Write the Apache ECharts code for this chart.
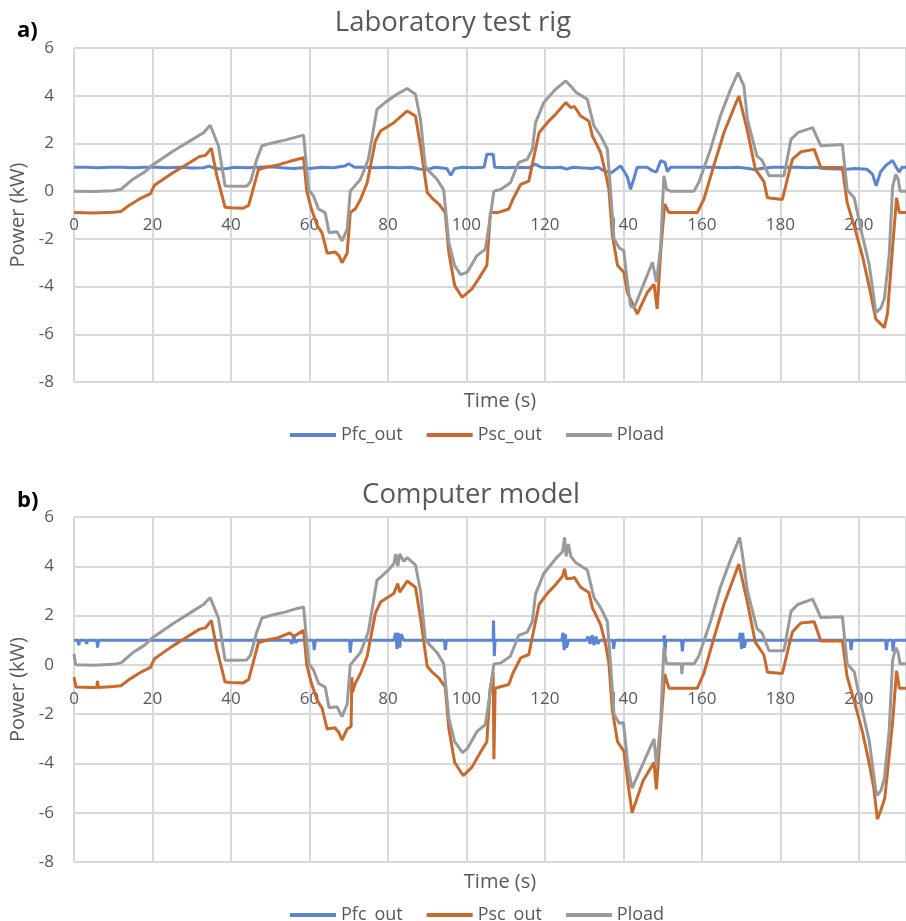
<!DOCTYPE html>
<html>
<head>
<meta charset="utf-8">
<script src="https://cdn.jsdelivr.net/npm/echarts@6/dist/echarts.min.js"></script>
<style>
  html, body { margin: 0; padding: 0; background: #fff; }
  #main { width: 906px; height: 921px; }
</style>
</head>
<body>
<div id="main"></div>
<script>
// [time (s), power (kW)]

// a) Laboratory test rig
var labPfc = [[0,1.0],[3,1.0],[6,0.98],[9,1.0],[12,1.0],[15,0.98],[18,1.0],[21,1.0],[24,0.98],[27,1.0],[30,0.97],[33,0.98],[34.5,1.05],[35.5,0.98],[37,0.93],[39,0.95],[41,1.0],[44,0.98],[47,1.0],[50,1.02],[53,0.98],[56,0.95],[58,0.98],[60,0.95],[63,1.0],[66,0.98],[69,1.05],[70,1.15],[71.5,1.0],[74,1.0],[77,0.98],[80,1.0],[83,0.98],[86,1.0],[88,0.93],[90,0.9],[92,1.0],[95,0.95],[96,0.67],[97,0.95],[99,1.0],[102,0.98],[104.5,1.0],[105.2,1.55],[106.8,1.55],[107.2,1.0],[110,0.98],[113,1.0],[116,0.98],[117.5,1.13],[119,1.0],[122,0.98],[124,1.0],[125.5,0.92],[127,1.0],[130,0.97],[132,0.95],[133.5,1.0],[135.5,0.82],[137,0.78],[139.3,1.06],[141,0.6],[141.8,0.08],[142.8,0.6],[143.5,1.0],[146,1.0],[147.5,0.85],[148.4,0.8],[149.5,1.28],[150.6,1.2],[151.2,0.82],[152,1.0],[156,1.0],[160,1.0],[163,1.0],[166,0.98],[169,1.0],[172,0.95],[173.5,0.9],[175,0.95],[178,1.0],[181,1.0],[184,1.0],[187,0.98],[189,1.0],[191,0.95],[194,0.93],[197,0.92],[199,0.95],[202,0.92],[203.5,0.7],[204.4,0.22],[205.5,0.8],[207,1.1],[208.6,1.28],[209.5,1.0],[210.3,0.8],[211,1.0],[212,1.0]];

var labPsc = [[0,-0.9],[5,-0.92],[10,-0.88],[12,-0.85],[14,-0.6],[17,-0.3],[19.5,-0.1],[20.5,0.25],[25,0.75],[29,1.15],[32,1.45],[33.5,1.5],[35,1.8],[36.4,0.64],[38.5,-0.68],[40,-0.7],[43,-0.72],[44.5,-0.6],[45.5,0],[47,0.9],[49,1.0],[52,1.1],[55,1.25],[58.5,1.4],[59.3,0],[60.5,-0.75],[62,-1.45],[63.2,-1.75],[64.5,-2.6],[66.5,-2.55],[67.5,-2.7],[68.3,-3.0],[69.6,-2.6],[70.4,-0.9],[71.7,-0.74],[73,-0.35],[74.7,0.35],[76.8,2.1],[78.1,2.52],[81.5,2.87],[84.9,3.36],[87,3.15],[88.3,1.9],[90,-0.06],[91.3,-0.3],[93,-0.54],[94.6,-0.9],[95.5,-2.56],[97,-3.96],[98.9,-4.45],[101.4,-4.1],[103.6,-3.54],[105.2,-3.12],[106.1,-0.9],[108,-0.9],[110.8,-0.75],[111.8,-0.35],[113.8,0.28],[115.9,0.42],[116.7,1.06],[118.5,2.45],[120.6,2.87],[122.7,3.22],[125.3,3.71],[126.6,3.5],[127.5,3.55],[129.1,3.15],[131.2,2.94],[132.1,2.31],[134.2,1.62],[135.5,0.71],[136.3,0.07],[137.2,-1.87],[138.5,-3.12],[140.1,-3.4],[141,-4.24],[142.3,-4.7],[143.5,-5.15],[146.1,-4.24],[147.8,-3.9],[148.6,-4.94],[149.5,-2.5],[150.5,-0.54],[151.6,-0.9],[158.8,-0.9],[160.5,-0.34],[163,1.06],[165.6,2.45],[169.4,3.99],[171.5,2.6],[173.6,0.92],[175.8,0.4],[176.7,-0.28],[180.5,-0.35],[182.6,1.06],[183.1,1.34],[185.2,1.65],[188.6,1.75],[190.3,0.99],[195.8,0.99],[197,-0.48],[198.8,-1.46],[200.9,-2.72],[202.6,-3.98],[204.3,-5.36],[206.5,-5.72],[207.3,-5.1],[208.6,-2.3],[209.6,-0.28],[210.3,-0.9],[212,-0.9]];

var labPload = [[0,0],[5,-0.02],[10,0.02],[12,0.08],[15,0.5],[18,0.8],[20,1.1],[25,1.65],[30,2.15],[33,2.45],[34.7,2.76],[36.8,1.9],[38.5,0.22],[41,0.2],[44,0.2],[45,0.4],[46.5,1.3],[47.9,1.9],[50,2.0],[54,2.15],[58.5,2.35],[59.8,0.05],[61,-0.2],[62.3,-0.75],[64,-0.9],[65,-1.74],[67,-1.7],[68.3,-2.08],[69.6,-1.6],[70.4,0],[73,0.5],[75,1.34],[77.2,3.43],[79.8,3.78],[82.3,4.06],[84.9,4.3],[87,4.06],[88.3,3.0],[89.5,1.06],[90.4,0.85],[92.5,0.5],[94.2,0.05],[95.5,-2.15],[97,-3.12],[98.5,-3.5],[100.2,-3.4],[102.7,-2.7],[104.8,-2.43],[105.6,-1.6],[107,0],[108.7,0.07],[111.2,0.35],[113.3,1.2],[115.5,1.33],[116.8,1.76],[117.6,2.87],[119.7,3.71],[122.7,4.27],[125.3,4.62],[126.6,4.4],[128,4.13],[130.8,3.85],[132.5,2.73],[134.2,2.31],[135.9,1.76],[136.7,0.07],[137.6,-2.0],[138.9,-2.37],[140.1,-2.5],[140.6,-3.26],[141.8,-4.8],[142.7,-4.9],[147.4,-2.98],[148.4,-3.82],[149.5,-2.3],[150.3,0.64],[151,0.07],[152,0],[158,0],[159.2,0.36],[162.2,1.76],[164.7,3.15],[167.3,4.27],[169.2,4.97],[170.7,4.4],[171.6,3.0],[174,1.48],[175.3,1.3],[177.1,0.64],[180.9,0.64],[182.7,2.17],[184.4,2.45],[188.2,2.66],[190.3,1.9],[195.8,1.95],[197,0.05],[198.8,-0.28],[200.9,-1.87],[202.6,-3.06],[203.4,-3.98],[204.3,-5.09],[205.6,-4.9],[206.5,-4.5],[207.7,-2.7],[208.6,0.2],[209.4,0.7],[210,0.5],[210.5,0],[212,0]];

// b) Computer model
var modelPfc = [[0,1],[1,1],[1.2,0.8],[1.5,1],[3,1],[3.2,0.85],[3.5,1],[5.8,1],[6,0.7],[6.3,1],[55,1],[55.5,0.85],[56,1.15],[56.5,0.9],[57,1],[61,1],[61.2,0.6],[61.5,1],[70.2,1],[70.4,0.5],[70.7,1],[81.5,1],[82,1.3],[82.3,0.65],[82.6,1.3],[83,0.7],[83.4,1.25],[84,1],[94.4,1],[94.6,0.6],[94.9,1],[106.8,1],[106.9,1.8],[107.1,0.35],[107.3,1],[124.3,1],[124.6,1.3],[124.9,0.6],[125.2,1.25],[125.5,0.7],[126,1],[130.5,1],[131,1.15],[131.5,0.85],[132,1.2],[132.5,0.8],[133,1.15],[133.5,0.85],[134,1],[137.3,1],[137.5,0.65],[137.8,1],[150.3,1],[150.4,1.2],[150.6,0.5],[150.8,1],[154.8,1],[155,0.55],[155.3,1],[169.5,1],[169.8,1.3],[170.1,0.65],[170.4,1.3],[170.8,0.7],[171.2,1],[197.8,1],[198,0.6],[198.3,1],[206.8,1],[207,0.6],[207.3,1],[208.5,1],[208.7,0.55],[209,1],[212,1]];

var modelPsc = [[0,-0.5],[0.5,-0.9],[5,-0.92],[5.8,-0.92],[6,-0.65],[6.2,-0.92],[10,-0.88],[12,-0.85],[14,-0.6],[17,-0.3],[19.5,-0.1],[20.5,0.25],[25,0.75],[29,1.15],[32,1.45],[33.5,1.5],[35,1.8],[36.4,0.64],[38.5,-0.7],[40,-0.72],[43,-0.74],[44.5,-0.6],[45.5,0],[47,0.9],[49,1.0],[52,1.1],[55,1.3],[56,1.15],[58.5,1.4],[59.3,0],[60.5,-0.75],[62,-1.45],[63.2,-1.75],[64.5,-2.6],[66.5,-2.55],[67.5,-2.75],[68.3,-3.05],[69.6,-2.6],[70.6,-2.5],[70.8,-0.5],[71,-1.1],[71.7,-0.74],[73,-0.35],[74.7,0.35],[76.8,2.1],[78.1,2.55],[81.5,2.9],[82.5,3.3],[83,2.95],[84.9,3.4],[87,3.15],[88.3,1.9],[90,-0.06],[91.3,-0.3],[93,-0.54],[94.6,-0.9],[95.5,-2.56],[97,-3.96],[99.2,-4.5],[101.4,-4.15],[103.6,-3.54],[105.2,-3.12],[106,-1.0],[106.8,-0.3],[107,-3.83],[107.3,-0.95],[110.8,-0.8],[111.8,-0.35],[113.8,0.28],[115.9,0.42],[116.7,1.06],[118.5,2.45],[120.6,2.9],[122.7,3.25],[124.5,3.6],[125,3.9],[125.5,3.5],[126.6,3.5],[127.5,3.55],[129.1,3.15],[131.2,2.94],[132.1,2.31],[134.2,1.62],[135.5,0.8],[136.3,0.07],[137.2,-1.87],[138.5,-3.12],[140.1,-3.5],[140.9,-4.5],[142.2,-6.0],[145,-4.7],[147.8,-3.96],[148.4,-5.05],[149.5,-2.5],[150.5,-0.37],[151.6,-0.95],[158.8,-0.95],[160.5,-0.34],[163,1.06],[165.6,2.45],[169.4,4.09],[171.5,2.6],[173.6,0.92],[175.8,0.4],[176.7,-0.3],[180.5,-0.35],[182.6,1.06],[183.1,1.34],[185.2,1.7],[188.6,1.75],[190.3,0.97],[195.8,0.97],[197,-0.48],[198.8,-1.46],[200.9,-2.72],[202.6,-3.98],[203.8,-5.0],[204.7,-6.26],[205.6,-5.9],[206.6,-5.4],[208.6,-2.3],[209.6,-0.24],[210.3,-0.95],[212,-0.95]];

var modelPload = [[0,0.45],[0.4,0],[5,-0.02],[10,0.02],[12,0.08],[15,0.5],[18,0.8],[20,1.1],[25,1.65],[30,2.15],[33,2.45],[34.7,2.73],[36.8,1.9],[38.5,0.19],[41,0.19],[44,0.2],[45,0.4],[46.5,1.3],[47.9,1.9],[50,2.0],[54,2.15],[56,2.25],[58.5,2.35],[59.8,0.05],[61,-0.2],[62.3,-0.75],[64,-0.9],[65,-1.74],[67,-1.7],[68.3,-2.1],[69.6,-1.6],[70.4,0],[73,0.5],[75,1.34],[77.2,3.43],[79.8,3.8],[81.5,4.1],[82,4.5],[82.5,4.0],[83,4.5],[84,4.2],[84.9,4.35],[87,4.06],[88.3,3.0],[89.5,1.06],[90.4,0.85],[92.5,0.5],[94.2,0.05],[95.5,-2.15],[97,-3.12],[99,-3.56],[100.2,-3.4],[102.7,-2.7],[104.8,-2.43],[105.6,-1.6],[107,0.04],[108.7,0.07],[111.2,0.35],[113.3,1.2],[115.5,1.33],[116.8,1.76],[117.6,2.87],[119.7,3.71],[122.7,4.3],[124.5,4.6],[125,5.17],[125.4,4.4],[126,4.9],[126.6,4.4],[128,4.13],[130.8,3.85],[132.5,2.73],[134.2,2.31],[135.9,1.76],[136.7,0.07],[137.6,-2.0],[138.9,-2.37],[140,-2.34],[141.2,-4.17],[142.2,-5.0],[147.8,-3.0],[148.4,-4.1],[149.5,-2.3],[150.3,0.7],[151,0.04],[154.7,0.04],[154.9,-0.38],[155.1,0.04],[158,0.04],[159.2,0.36],[162.2,1.76],[164.7,3.15],[167.3,4.27],[169.2,5.0],[169.6,5.17],[170.2,4.6],[171.6,3.0],[174,1.48],[175.3,1.3],[177.1,0.57],[180.9,0.57],[182.7,2.17],[184.4,2.45],[188.2,2.67],[190.3,1.92],[195.8,1.95],[197,0.05],[198.8,-0.28],[200.9,-1.87],[202.6,-3.06],[203.4,-4.0],[204.3,-5.1],[204.7,-5.3],[205.6,-5.1],[206.5,-4.6],[207.7,-2.7],[208.6,0.2],[209.4,0.7],[210,0.5],[210.5,0.04],[212,0.04]];

var seriesNames = ['Pfc_out', 'Psc_out', 'Pload'];
var colors = ['#5b84d2', '#c9692c', '#9a9a9a'];

var font = '"Open Sans", sans-serif';
var textGray = '#595959';
var gridGray = '#d9d9d9';

var yMin = -8, yMax = 6;
var grids = [
  { left: 74, right: 0, top: 48, height: 334, outerBoundsMode: 'none' },
  { left: 74, right: 0, top: 517, height: 345, outerBoundsMode: 'none' }
];

function makeX(gridIndex) {
  // onZero does not move the labels here, so shift the axis up to y = 0 by hand
  var h = grids[gridIndex].height
  return {
    type: 'value',
    gridIndex: gridIndex,
    min: 0,
    max: 212,
    interval: 20,
    position: 'bottom',
    offset: -h * (0 - yMin) / (yMax - yMin),
    axisLine: { onZero: false, lineStyle: { color: gridGray, width: 2 } },
    axisTick: { show: false },
    axisLabel: { color: textGray, fontSize: 17, fontFamily: font, margin: 14, padding: [12, 0, 0, 0], showMaxLabel: false },
    splitLine: { show: true, lineStyle: { color: gridGray, width: 2 } }
  }
}

function makeY(gridIndex) {
  return {
    type: 'value',
    gridIndex: gridIndex,
    min: yMin,
    max: yMax,
    interval: 2,
    name: 'Power (kW)',
    nameLocation: 'middle',
    nameGap: 46,
    nameTextStyle: { color: textGray, fontSize: 20, fontFamily: font },
    axisLine: { show: false, onZero: false },
    axisTick: { show: false },
    axisLabel: { color: textGray, fontSize: 17, fontFamily: font, margin: 20 },
    splitLine: { show: true, lineStyle: { color: gridGray, width: 2 } }
  }
}

function makeLine(name, data, idx, color) {
  return {
    name: name,
    type: 'line',
    xAxisIndex: idx,
    yAxisIndex: idx,
    data: data,
    showSymbol: false,
    symbol: 'none',
    lineStyle: { color: color, width: 3 },
    itemStyle: { color: color },
    z: name === 'Pfc_out' ? 3 : (name === 'Psc_out' ? 4 : 5)
  }
}

function makeLegend(top) {
  return {
    top: top,
    left: 285,
    icon: 'rect',
    itemWidth: 46,
    itemHeight: 4,
    itemGap: 24,
    textStyle: { color: textGray, fontSize: 18, fontFamily: font },
    data: seriesNames
  }
}

var option = {
  animation: false,
  backgroundColor: '#fff',
  title: [
    { text: 'a)', left: 12, top: 15, textStyle: { color: '#000', fontSize: 22, fontWeight: 'bold', fontFamily: font } },
    { text: 'Laboratory test rig', left: 448, textAlign: 'center', top: 4, textStyle: { color: textGray, fontSize: 27.5, fontWeight: 'normal', fontFamily: font } },
    { text: 'Time (s)', left: 495, textAlign: 'center', top: 386, textStyle: { color: textGray, fontSize: 20, fontWeight: 'normal', fontFamily: font } },
    { text: 'b)', left: 12, top: 485, textStyle: { color: '#000', fontSize: 22, fontWeight: 'bold', fontFamily: font } },
    { text: 'Computer model', left: 466, textAlign: 'center', top: 476, textStyle: { color: textGray, fontSize: 27.5, fontWeight: 'normal', fontFamily: font } },
    { text: 'Time (s)', left: 495, textAlign: 'center', top: 867, textStyle: { color: textGray, fontSize: 20, fontWeight: 'normal', fontFamily: font } }
  ],
  legend: [makeLegend(421), makeLegend(901)],
  grid: grids,
  xAxis: [makeX(0), makeX(1)],
  yAxis: [makeY(0), makeY(1)],
  series: [
    makeLine('Pfc_out', labPfc, 0, colors[0]),
    makeLine('Psc_out', labPsc, 0, colors[1]),
    makeLine('Pload', labPload, 0, colors[2]),
    makeLine('Pfc_out', modelPfc, 1, colors[0]),
    makeLine('Psc_out', modelPsc, 1, colors[1]),
    makeLine('Pload', modelPload, 1, colors[2])
  ]
}

var myChart = echarts.init(document.getElementById('main'))
myChart.setOption(option)
</script>
</body>
</html>
